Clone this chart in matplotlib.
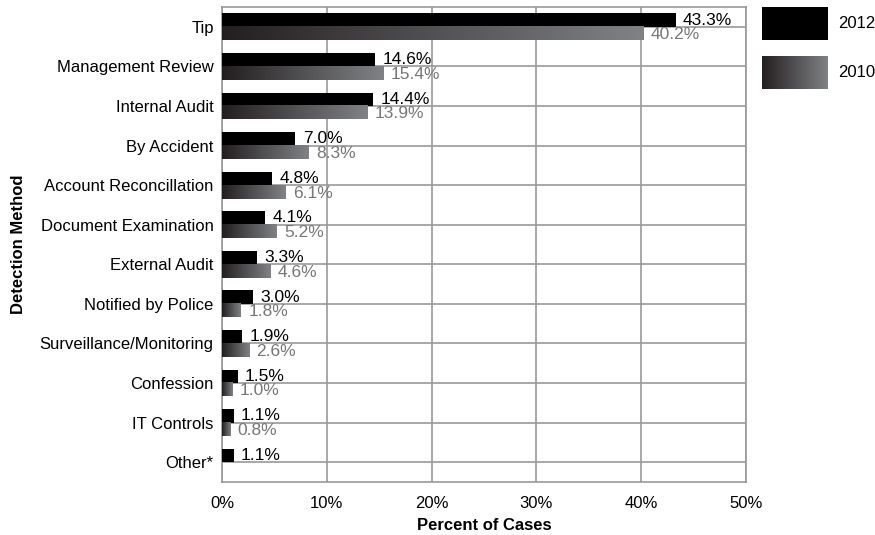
import numpy as np
import matplotlib
matplotlib.use("Agg")
import matplotlib.pyplot as plt
from matplotlib.colors import LinearSegmentedColormap

plt.rcParams['font.family'] = ['Liberation Sans', 'DejaVu Sans']

# ===== data =====
methods = ["Tip", "Management Review", "Internal Audit", "By Accident",
           "Account Reconcillation", "Document Examination", "External Audit",
           "Notified by Police", "Surveillance/Monitoring", "Confession",
           "IT Controls", "Other*"]
vals_2012 = [43.3, 14.6, 14.4, 7.0, 4.8, 4.1, 3.3, 3.0, 1.9, 1.5, 1.1, 1.1]
vals_2010 = [40.2, 15.4, 13.9, 8.3, 6.1, 5.2, 4.6, 1.8, 2.6, 1.0, 0.8, None]
xticks = [0, 10, 20, 30, 40, 50]

grad = LinearSegmentedColormap.from_list("g", ["#231f20", "#808285"])
grid_c = "#9a9a9a"

fig = plt.figure(figsize=(8.75, 5.35), dpi=100)
ax = fig.add_axes([222/875, 1 - 482/535, 524/875, 475/535])

y = np.arange(len(methods))
h = 0.34
bars12 = ax.barh(y - h/2, vals_2012, height=h, color="black", zorder=3)
v10 = [v if v is not None else 0 for v in vals_2010]
bars10 = ax.barh(y + h/2, v10, height=h, color="none", zorder=3)

# gradient fill for 2010 bars
g = np.linspace(0, 1, 256).reshape(1, -1)
for b, v in zip(bars10, vals_2010):
    if not v:
        continue
    x0, y0, w, hh = b.get_x(), b.get_y(), b.get_width(), b.get_height()
    ax.imshow(g, cmap=grad, aspect="auto", extent=[x0, x0 + w, y0 + hh, y0],
              zorder=3, interpolation="bilinear")

# value labels
for i, v in enumerate(vals_2012):
    ax.text(v + 0.7, i - h/2, f"{v:.1f}%", va="center", ha="left",
            fontsize=12.5, color="black", zorder=4)
for i, v in enumerate(vals_2010):
    if v is None:
        continue
    ax.text(v + 0.7, i + h/2 + 0.03, f"{v:.1f}%", va="center", ha="left",
            fontsize=12.5, color="#777777", zorder=4)

ax.set_xlim(0, 50)
ax.set_ylim(len(methods) - 0.5, -0.5)
ax.set_xticks(xticks)
ax.set_xticklabels([f"{t}%" for t in xticks], fontsize=12)
ax.set_yticks(y)
ax.set_yticklabels(methods, fontsize=12)
ax.tick_params(length=0, pad=6)
ax.tick_params(axis="x", pad=10)
ax.grid(True, color=grid_c, linewidth=1.2, zorder=1)
ax.set_axisbelow(True)
for s in ax.spines.values():
    s.set_color(grid_c)
    s.set_linewidth(1.2)

ax.set_xlabel("Percent of Cases", fontsize=12, fontweight="bold", labelpad=5)
ax.set_ylabel("Detection Method", fontsize=12, fontweight="bold", labelpad=10)

# legend boxes
lax1 = fig.add_axes([762/875, 1 - 40/535, 66/875, 33/535])
lax1.set_facecolor("black")
lax1.set_xticks([]); lax1.set_yticks([])
for s in lax1.spines.values():
    s.set_visible(False)
lax2 = fig.add_axes([762/875, 1 - 89/535, 66/875, 33/535])
lax2.imshow(g, cmap=grad, aspect="auto", extent=[0, 1, 0, 1])
lax2.set_xticks([]); lax2.set_yticks([])
for s in lax2.spines.values():
    s.set_visible(False)
fig.text(838/875, 1 - 23/535, "2012", fontsize=12, va="center")
fig.text(838/875, 1 - 72/535, "2010", fontsize=12, va="center")

fig.savefig("out.png", dpi=100)
